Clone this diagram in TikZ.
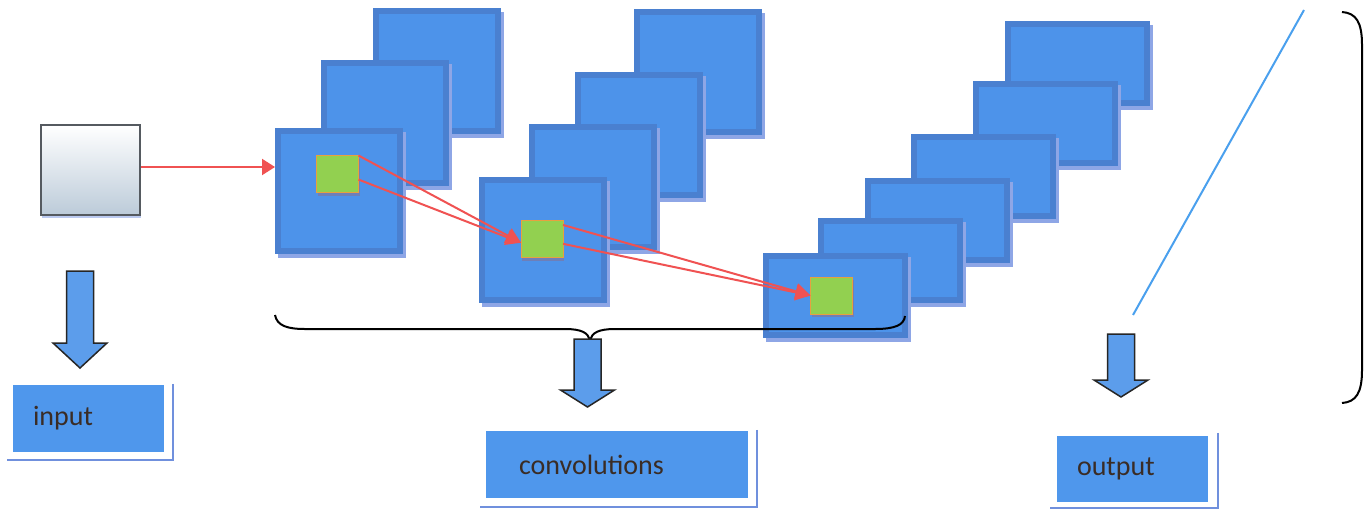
\documentclass[tikz,border=0pt]{standalone}
\usepackage{fontspec}
\newfontfamily\labelfont{Carlito}
\usetikzlibrary{arrows.meta,calc}
\definecolor{mapfill}{HTML}{4D93EA}
\definecolor{mapedge}{HTML}{4A80D0}
\definecolor{mapshade}{HTML}{8EA6E6}
\definecolor{patchfill}{HTML}{92D050}
\definecolor{patchedge}{HTML}{E8A040}
\definecolor{patchshade}{HTML}{6E7FB8}
\definecolor{linkred}{HTML}{F05252}
\definecolor{labelfill}{HTML}{4F97EC}
\definecolor{labeledge}{HTML}{7090DD}
\definecolor{labeltext}{HTML}{3A2C25}
\definecolor{arrowfill}{HTML}{5C9DEB}
\definecolor{skyline}{HTML}{4AA0EE}
\definecolor{inshade}{HTML}{BCCBD9}
\definecolor{inedge}{HTML}{555A60}
\begin{document}
\begin{tikzpicture}[x=1pt,y=-1pt,
  fmap/.style={draw=mapedge, fill=mapfill, line width=6pt, inner sep=0pt, outer sep=0pt,
    preaction={draw=mapshade, fill=mapshade, line width=6pt, transform canvas={shift={(3pt,-4pt)}}}},
  mapsq/.style={fmap, minimum width=122pt, minimum height=120pt},
  mapwide/.style={fmap, minimum width=139pt, minimum height=79pt},
  patchbox/.style={draw=patchedge, fill=patchfill, line width=0.8pt, inner sep=0pt, outer sep=0pt,
    minimum width=42pt, minimum height=37pt,
    preaction={fill=patchshade, transform canvas={shift={(1pt,-3pt)}}}},
  redlink/.style={draw=linkred, line width=2pt, -{Triangle[length=15pt,width=16pt]}},
  tagbox/.style={fill=labelfill, inner ysep=0pt, minimum height=67pt, text=labeltext, align=left,
    font=\labelfont\fontsize{28}{32}\selectfont},
  tagframe/.style={draw=labeledge, line width=2pt},
  blockarrow/.style={draw=black!85, fill=arrowfill, line width=1.5pt, line join=miter},
  pics/downarrow/.style 2 args={code={
    \draw[blockarrow] (-13.5,0) -- (13.5,0) -- (13.5,#1) -- (27,#1) -- (0,#1+#2)
      -- (-27,#1) -- (-13.5,#1) -- cycle;}}
]
\fill[white] (0,0) rectangle (1372,509);
\useasboundingbox (0,0) rectangle (1372,509);

% input image
\node[draw=inedge, line width=2pt, top color=white, middle color=white!94!inshade, bottom color=inshade,
  minimum width=99pt, minimum height=90pt, inner sep=0pt, outer sep=0pt,
  preaction={fill=mapshade!60, transform canvas={shift={(1pt,-3pt)}}}] (in) at (90.5,170) {};

% first convolution stack
\node[mapsq] (c1c) at (437,71) {};
\node[mapsq] (c1b) at (385,123) {};
\node[mapsq] (c1a) at (339,191) {};

% second convolution stack
\node[mapsq] (c2d) at (698,72) {};
\node[mapsq] (c2c) at (639,135) {};
\node[mapsq] (c2b) at (593,187) {};
\node[mapsq] (c2a) at (543,240) {};

% output stack
\node[mapwide] (c3f) at (1077.5,63.5) {};
\node[mapwide] (c3e) at (1045.5,123.5) {};
\node[mapwide] (c3d) at (983.5,176.5) {};
\node[mapwide] (c3c) at (937.5,220.5) {};
\node[mapwide] (c3b) at (890.5,260.5) {};
\node[mapwide] (c3a) at (835.5,295.5) {};

% receptive-field patches
\node[patchbox] (g1) at (337.5,174) {};
\node[patchbox] (g2) at (542,239) {};
\node[patchbox] (g3) at (831.5,295.5) {};

% red links
\coordinate (s0) at ($(in.east)+(1,-3)$);
\coordinate (e0) at ($(c1a.west |- s0)+(-3,0)$);
\draw[redlink, -{Triangle[length=13pt,width=16pt]}] (s0) -- (e0);
\draw[redlink] (g1.north east) -- ($(g2.north west)!0.6!(g2.south west)$);
\draw[redlink] ($(g1.north east)!0.65!(g1.south east)$) -- ($(g2.north west)!0.6!(g2.south west)$);
\draw[redlink] ($(g2.north east)!0.12!(g2.south east)$) -- (g3.west);
\draw[redlink] ($(g2.north east)!0.63!(g2.south east)$) -- (g3.west);

% brace under the convolution stacks
\coordinate (bl) at (275,315);
\coordinate (bt) at (590,340);
\coordinate (br) at (905,316);
\draw[black, line width=2pt] (bl) .. controls (277,326) and (288,329) .. (305,329) -- (565,329)
  .. controls (582,329) and (588,333) .. (bt)
  .. controls (592,333) and (598,329) .. (615,329) -- (875,329)
  .. controls (895,329) and (904,325) .. (br);

% diagonal line and right bracket
\coordinate (dl1) at (1304,10);
\coordinate (dl2) at (1133,315);
\draw[skyline, line width=2pt] (dl1) -- (dl2);
\coordinate (rb1) at (1342,12);
\coordinate (rb2) at (1342,403);
\draw[black, line width=2pt] (rb1) .. controls (1356,13) and (1362,22) .. (1362,45) -- (1362,370)
  .. controls (1362,393) and (1356,402) .. (rb2);

% block arrows
\pic at (80,271) {downarrow={72}{25}};
\pic at (587.5,339) {downarrow={51}{17}};
\pic at (1121,334) {downarrow={46}{17}};

% labels
\node[tagbox, text width=111pt, inner xsep=20pt] (lin) at (88.5,418.5) {input};
\draw[tagframe] ([xshift=9pt,yshift=1pt]lin.north east) |- ([xshift=-6pt,yshift=-8pt]lin.south west);
\node[tagbox, text width=196pt, inner xsep=33pt] (lconv) at (617,464.5) {convolutions};
\draw[tagframe] ([xshift=9pt,yshift=1pt]lconv.north east) |- ([xshift=-6pt,yshift=-9pt]lconv.south west);
\node[tagbox, text width=111pt, inner xsep=20pt, minimum height=66pt] (lout) at (1132.5,469) {output};
\draw[tagframe] ([xshift=10pt,yshift=3pt]lout.north east) |- ([xshift=-7pt,yshift=-6pt]lout.south west);
\end{tikzpicture}
\end{document}
